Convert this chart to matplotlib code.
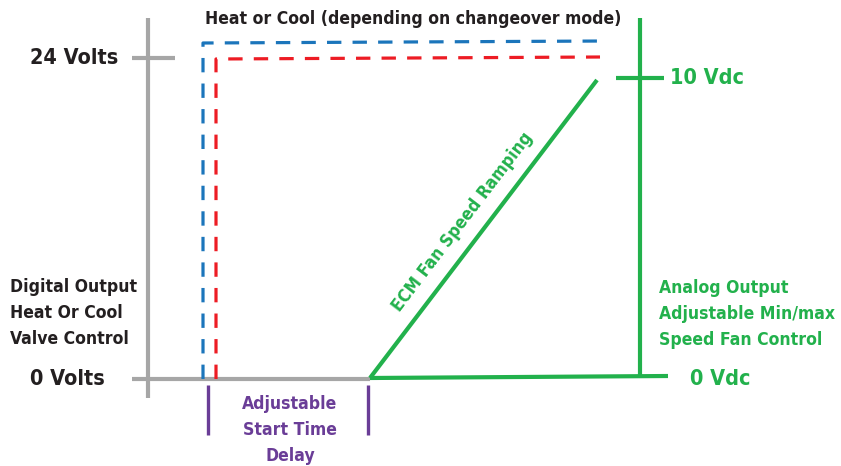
import matplotlib.pyplot as plt
from matplotlib import font_manager

# diagram geometry (pixel coordinates of the reference picture)
gray_axis_x = [148, 148]
gray_axis_y = [18, 398]
gray_base_x = [132, 370]
gray_base_y = [379, 379]
gray_tick_x = [132, 175]
gray_tick_y = [58, 58]

blue_x = [203, 203, 605]
blue_y = [379, 43, 41]
red_x = [216, 216, 600]
red_y = [379, 59, 57]

ramp_x = [370, 597]
ramp_y = [378, 80]
green_base_x = [370, 668]
green_base_y = [378, 376]
green_axis_x = [640, 640]
green_axis_y = [18, 377]
green_tick_x = [616, 664]
green_tick_y = [78, 78]

purple_ticks_x = [208, 368]
purple_tick_y = [385, 435]

GRAY = '#a6a6a6'
BLUE = '#1b75bb'
RED = '#ed1c24'
GREEN = '#22b14c'
PURPLE = '#6a3d97'
INK = '#231f20'

# narrow bold face if there is one
cond = font_manager.findfont(font_manager.FontProperties(
    family='DejaVu Sans', stretch='condensed', weight='bold'))
is_cond = 'Condensed' in cond
plt.rcParams['font.family'] = ['DejaVu Sans']
plt.rcParams['font.weight'] = 'bold'
plt.rcParams['font.stretch'] = 'condensed'
big = 15.5 if is_cond else 13.5
small = 12.6 if is_cond else 11
ls = 1.6

fig = plt.figure(figsize=(8.41, 4.66), dpi=100)
ax = fig.add_axes([0, 0, 1, 1])
ax.set_xlim(0, 841)
ax.set_ylim(466, 0)
ax.axis('off')

ax.plot(gray_axis_x, gray_axis_y, color=GRAY, lw=3, solid_capstyle='butt')
ax.plot(gray_base_x, gray_base_y, color=GRAY, lw=3, solid_capstyle='butt')
ax.plot(gray_tick_x, gray_tick_y, color=GRAY, lw=3, solid_capstyle='butt')

ax.plot(blue_x, blue_y, color=BLUE, lw=2.3, dashes=(4.5, 3.5))
ax.plot(red_x, red_y, color=RED, lw=2.3, dashes=(4.5, 3.5))

ax.plot(ramp_x, ramp_y, color=GREEN, lw=3, solid_capstyle='butt')
ax.plot(green_base_x, green_base_y, color=GREEN, lw=3, solid_capstyle='butt')
ax.plot(green_axis_x, green_axis_y, color=GREEN, lw=3, solid_capstyle='butt')
ax.plot(green_tick_x, green_tick_y, color=GREEN, lw=3, solid_capstyle='butt')

for px in purple_ticks_x:
    ax.plot([px, px], purple_tick_y, color=PURPLE, lw=2.4, solid_capstyle='butt')

ax.text(118, 58, '24 Volts', ha='right', va='center', fontsize=big, color=INK)
ax.text(105, 379, '0 Volts', ha='right', va='center', fontsize=big, color=INK)
ax.text(413, 19, 'Heat or Cool (depending on changeover mode)', ha='center',
        va='center', fontsize=small, color=INK)
ax.text(10, 313, 'Digital Output\nHeat Or Cool\nValve Control', ha='left',
        va='center', fontsize=small, color=INK, linespacing=ls)

ax.text(670, 78, '10 Vdc', ha='left', va='center', fontsize=big, color=GREEN)
ax.text(690, 379, '0 Vdc', ha='left', va='center', fontsize=big, color=GREEN)
ax.text(659, 314, 'Analog Output\nAdjustable Min/max\nSpeed Fan Control',
        ha='left', va='center', fontsize=small, color=GREEN, linespacing=ls)
ax.text(463, 222, 'ECM Fan Speed Ramping', ha='center', va='center',
        fontsize=small, color=GREEN, rotation=52.7, rotation_mode='anchor')

ax.text(290, 430, 'Adjustable\nStart Time\nDelay', ha='center', va='center',
        fontsize=small, color=PURPLE, linespacing=ls)

fig.savefig('out.png', dpi=100)
